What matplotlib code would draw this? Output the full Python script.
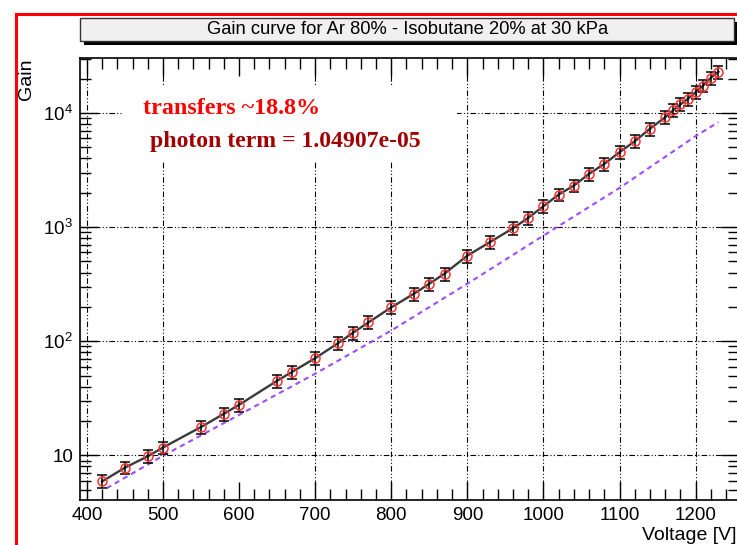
import matplotlib
matplotlib.use("Agg")
import matplotlib.pyplot as plt
from matplotlib.patches import Rectangle
from matplotlib.lines import Line2D
from matplotlib.ticker import MultipleLocator, LogLocator, FuncFormatter, NullFormatter
import numpy as np

plt.rcParams['font.family'] = ['Liberation Sans', 'DejaVu Sans']
plt.rcParams['mathtext.fontset'] = 'custom'
plt.rcParams['mathtext.rm'] = 'Liberation Sans'
plt.rcParams['mathtext.it'] = 'Liberation Sans'

# measured gain points
voltage = [420, 450, 480, 500, 550, 580, 600, 650, 670, 700, 730, 750, 770,
           800, 830, 850, 870, 900, 930, 960, 980, 1000, 1020, 1040, 1060,
           1080, 1100, 1120, 1140, 1160, 1170, 1180, 1190, 1200, 1210, 1220, 1230]
gain = [5.9, 7.8, 9.8, 11.7, 17.7, 23.1, 27.7, 45, 54, 71, 96, 119, 146,
        198, 261, 319, 391, 562, 741, 977, 1205, 1524, 1928, 2312, 2930,
        3580, 4530, 5660, 7270, 9180, 10520, 11880, 13330, 15220, 17400, 20350, 22980]
gain_err = [0.77, 1.0, 1.3, 1.5, 2.3, 3.0, 3.6, 5.9, 7.0, 9.2, 12.5, 15.5, 19,
            26, 34, 41, 51, 73, 96, 127, 157, 198, 251, 301, 381,
            465, 589, 736, 945, 1190, 1370, 1540, 1730, 1980, 2260, 2650, 2990]

# gain without photon feedback
photon_v = [426, 500, 600, 700, 800, 900, 1000, 1100, 1200, 1230]
photon_g = [5.15, 9.9, 22.6, 51.9, 124, 319, 842, 2207, 6270, 8320]

grid_x = [400, 500, 700, 800, 900, 1000, 1100, 1200]
grid_y = [10, 100, 1000, 10000]

title = "Gain curve for Ar 80% - Isobutane 20% at 30 kPa"
note1 = "transfers ~18.8%"
note2 = "photon term = 1.04907e-05"

W, H = 737, 545
fig = plt.figure(figsize=(W / 100, H / 100), dpi=100)

# frame of the slide
fig.add_artist(Line2D([16 / W, 16 / W], [0, 1 - 14 / H], color='red', lw=2.2))
fig.add_artist(Line2D([16 / W, 1], [1 - 14 / H, 1 - 14 / H], color='red', lw=2.2))

ax = fig.add_axes([80 / W, 45 / H, 659 / W, 442 / H])
ax.set_yscale('log')
ax.set_xlim(391, 1257)
ax.set_ylim(4.06, 30340)

dash = (0, (5, 2, 1, 2, 1, 2))
for gx in grid_x:
    ax.axvline(gx, color='black', lw=0.8, ls=dash, zorder=1)
for gy in grid_y:
    ax.axhline(gy, color='black', lw=0.8, ls=dash, zorder=1)

# white pad behind the notes
ax.add_patch(Rectangle((0.0652, 0.765), 0.507, 0.169, transform=ax.transAxes,
                       facecolor='white', edgecolor='none', zorder=2))
ax.text(0.0957, 0.885, note1, transform=ax.transAxes, color='#ff0000',
        fontsize=17.4, fontweight='bold', family='Liberation Serif',
        va='center', ha='left', zorder=3)
ax.text(0.1062, 0.81, note2, transform=ax.transAxes, color='#a00000',
        fontsize=17.1, fontweight='bold', family='Liberation Serif',
        va='center', ha='left', zorder=3)

ax.plot(photon_v, photon_g, color='#9b4dff', lw=1.5, ls=(0, (2.5, 2)), zorder=4)
ax.plot(voltage, gain, color='#3a3a3a', lw=1.7, zorder=5)
ax.errorbar(voltage, gain, yerr=gain_err, fmt='none', ecolor='black',
            elinewidth=1.1, capsize=3.5, capthick=1.1, zorder=6)
ax.plot(voltage, gain, 'o', mfc='none', mec='#ff3030', mew=1.1, ms=6.5, zorder=7)

ax.xaxis.set_major_locator(MultipleLocator(100))
ax.xaxis.set_minor_locator(MultipleLocator(20))
ax.yaxis.set_major_locator(LogLocator(base=10, numticks=10))
ax.yaxis.set_minor_locator(LogLocator(base=10, subs=np.arange(2, 10), numticks=20))
ax.yaxis.set_minor_formatter(NullFormatter())


def log_label(v, pos):
    n = int(round(np.log10(v)))
    if n == 1:
        return "10"
    return r"$10^{%d}$" % n


ax.yaxis.set_major_formatter(FuncFormatter(log_label))
ax.tick_params(which='both', direction='in', top=True, right=True,
               labelsize=13.5, width=1.0, color='black')
ax.tick_params(which='major', length=13, pad=5)
ax.tick_params(which='minor', length=8)
for s in ax.spines.values():
    s.set_linewidth(1.2)

fig.text(737 / W, 1 - 535 / H, "Voltage [V]", fontsize=14, ha='right', va='center')
fig.text(27 / W, 1 - 58 / H, "Gain", fontsize=14, rotation=90, ha='center', va='top')

# title box with drop shadow
fig.add_artist(Rectangle((84 / W, 1 - 45 / H), 654 / W, 23 / H, transform=fig.transFigure,
                         facecolor='black', edgecolor='none'))
fig.add_artist(Rectangle((80 / W, 1 - 41 / H), 654 / W, 23 / H, transform=fig.transFigure,
                         facecolor='#f0f0f0', edgecolor='#333333', lw=1.0))
fig.text(408 / W, 1 - 30 / H, title, fontsize=13.2, ha='center', va='center')

fig.savefig("out.png", dpi=100)
